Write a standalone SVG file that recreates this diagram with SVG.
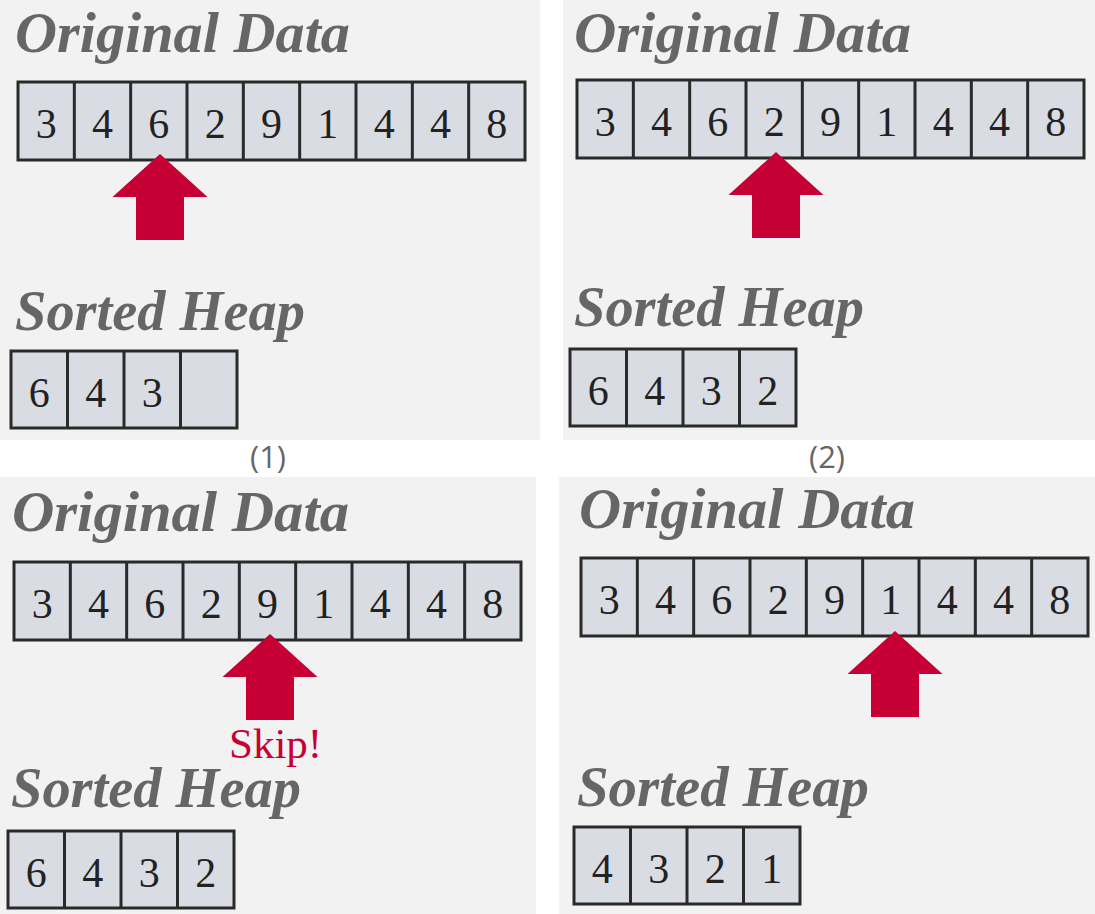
<svg xmlns="http://www.w3.org/2000/svg" width="1095" height="914" viewBox="0 0 1095 914">
<style>
.bg{fill:#f2f2f2}
.box{fill:#d9dce3;stroke:#2a2a2a;stroke-width:3}
.div{stroke:#2a2a2a;stroke-width:3}
.num{font-family:"Liberation Serif",serif;font-size:42px;fill:#222;text-anchor:middle}
.title{font-family:"Liberation Serif",serif;font-size:58px;font-weight:bold;font-style:italic;fill:#666}
.lbl{font-family:"Open Sans",sans-serif;font-size:31px;fill:#666;text-anchor:middle}
.arrow{fill:#c60035}
.skip{font-family:"Liberation Serif",serif;font-size:43px;fill:#c60035}
</style>
<defs>
<path id="up" d="M0,0 L47.5,43 L24,43 L24,86 L-24,86 L-24,43 L-47.5,43 Z"/>
</defs>
<rect width="1095" height="914" fill="#ffffff"/>

<g id="panel1">
<rect class="bg" x="0" y="0" width="540" height="440"/>
<text class="title" x="15" y="52" textLength="335" lengthAdjust="spacingAndGlyphs">Original Data</text>
<g id="data1" transform="translate(18,82)">
<rect class="box" x="0" y="0" width="507" height="78"/>
<path class="div" d="M56.33,0V78M112.67,0V78M169,0V78M225.33,0V78M281.67,0V78M338,0V78M394.33,0V78M450.67,0V78"/>
<text class="num" x="28.17" y="56">3</text><text class="num" x="84.5" y="56">4</text><text class="num" x="140.83" y="56">6</text><text class="num" x="197.17" y="56">2</text><text class="num" x="253.5" y="56">9</text><text class="num" x="309.83" y="56">1</text><text class="num" x="366.17" y="56">4</text><text class="num" x="422.5" y="56">4</text><text class="num" x="478.83" y="56">8</text>
</g>
<text class="title" x="15" y="330" textLength="290" lengthAdjust="spacingAndGlyphs">Sorted Heap</text>
<g id="heap1" transform="translate(11,351)">
<rect class="box" x="0" y="0" width="226" height="77"/>
<path class="div" d="M56.5,0V77M113,0V77M169.5,0V77"/>
<text class="num" x="28.25" y="56">6</text><text class="num" x="84.75" y="56">4</text><text class="num" x="141.25" y="56">3</text>
</g>
</g>

<g id="panel2">
<rect class="bg" x="563" y="0" width="532" height="440"/>
<text class="title" x="574" y="52" textLength="337" lengthAdjust="spacingAndGlyphs">Original Data</text>
<g id="data2" transform="translate(577,80)">
<rect class="box" x="0" y="0" width="507" height="78"/>
<path class="div" d="M56.33,0V78M112.67,0V78M169,0V78M225.33,0V78M281.67,0V78M338,0V78M394.33,0V78M450.67,0V78"/>
<text class="num" x="28.17" y="56">3</text><text class="num" x="84.5" y="56">4</text><text class="num" x="140.83" y="56">6</text><text class="num" x="197.17" y="56">2</text><text class="num" x="253.5" y="56">9</text><text class="num" x="309.83" y="56">1</text><text class="num" x="366.17" y="56">4</text><text class="num" x="422.5" y="56">4</text><text class="num" x="478.83" y="56">8</text>
</g>
<text class="title" x="574" y="326" textLength="290" lengthAdjust="spacingAndGlyphs">Sorted Heap</text>
<g id="heap2" transform="translate(570,349)">
<rect class="box" x="0" y="0" width="226" height="77"/>
<path class="div" d="M56.5,0V77M113,0V77M169.5,0V77"/>
<text class="num" x="28.25" y="56">6</text><text class="num" x="84.75" y="56">4</text><text class="num" x="141.25" y="56">3</text><text class="num" x="197.75" y="56">2</text>
</g>
</g>

<g id="panel3">
<rect class="bg" x="0" y="477" width="536" height="437"/>
<text class="title" x="12" y="531" textLength="337" lengthAdjust="spacingAndGlyphs">Original Data</text>
<g id="data3" transform="translate(14,562)">
<rect class="box" x="0" y="0" width="507" height="78"/>
<path class="div" d="M56.33,0V78M112.67,0V78M169,0V78M225.33,0V78M281.67,0V78M338,0V78M394.33,0V78M450.67,0V78"/>
<text class="num" x="28.17" y="56">3</text><text class="num" x="84.5" y="56">4</text><text class="num" x="140.83" y="56">6</text><text class="num" x="197.17" y="56">2</text><text class="num" x="253.5" y="56">9</text><text class="num" x="309.83" y="56">1</text><text class="num" x="366.17" y="56">4</text><text class="num" x="422.5" y="56">4</text><text class="num" x="478.83" y="56">8</text>
</g>
<text class="skip" x="229" y="758">Skip!</text>
<text class="title" x="11" y="807" textLength="290" lengthAdjust="spacingAndGlyphs">Sorted Heap</text>
<g id="heap3" transform="translate(8,831)">
<rect class="box" x="0" y="0" width="226" height="77"/>
<path class="div" d="M56.5,0V77M113,0V77M169.5,0V77"/>
<text class="num" x="28.25" y="56">6</text><text class="num" x="84.75" y="56">4</text><text class="num" x="141.25" y="56">3</text><text class="num" x="197.75" y="56">2</text>
</g>
</g>

<g id="panel4">
<rect class="bg" x="559" y="477" width="536" height="437"/>
<text class="title" x="579" y="528" textLength="336" lengthAdjust="spacingAndGlyphs">Original Data</text>
<g id="data4" transform="translate(581,558)">
<rect class="box" x="0" y="0" width="507" height="78"/>
<path class="div" d="M56.33,0V78M112.67,0V78M169,0V78M225.33,0V78M281.67,0V78M338,0V78M394.33,0V78M450.67,0V78"/>
<text class="num" x="28.17" y="56">3</text><text class="num" x="84.5" y="56">4</text><text class="num" x="140.83" y="56">6</text><text class="num" x="197.17" y="56">2</text><text class="num" x="253.5" y="56">9</text><text class="num" x="309.83" y="56">1</text><text class="num" x="366.17" y="56">4</text><text class="num" x="422.5" y="56">4</text><text class="num" x="478.83" y="56">8</text>
</g>
<text class="title" x="577" y="806" textLength="292" lengthAdjust="spacingAndGlyphs">Sorted Heap</text>
<g id="heap4" transform="translate(574,827)">
<rect class="box" x="0" y="0" width="226" height="77"/>
<path class="div" d="M56.5,0V77M113,0V77M169.5,0V77"/>
<text class="num" x="28.25" y="56">4</text><text class="num" x="84.75" y="56">3</text><text class="num" x="141.25" y="56">2</text><text class="num" x="197.75" y="56">1</text>
</g>
</g>

<g id="labels">
<text class="lbl" x="268" y="468">(1)</text>
<text class="lbl" x="827" y="468">(2)</text>
</g>

<g id="connectors">
<use href="#up" class="arrow" x="160" y="154"/>
<use href="#up" class="arrow" x="776" y="152"/>
<use href="#up" class="arrow" x="270" y="634"/>
<use href="#up" class="arrow" x="895" y="631"/>
</g>
</svg>
